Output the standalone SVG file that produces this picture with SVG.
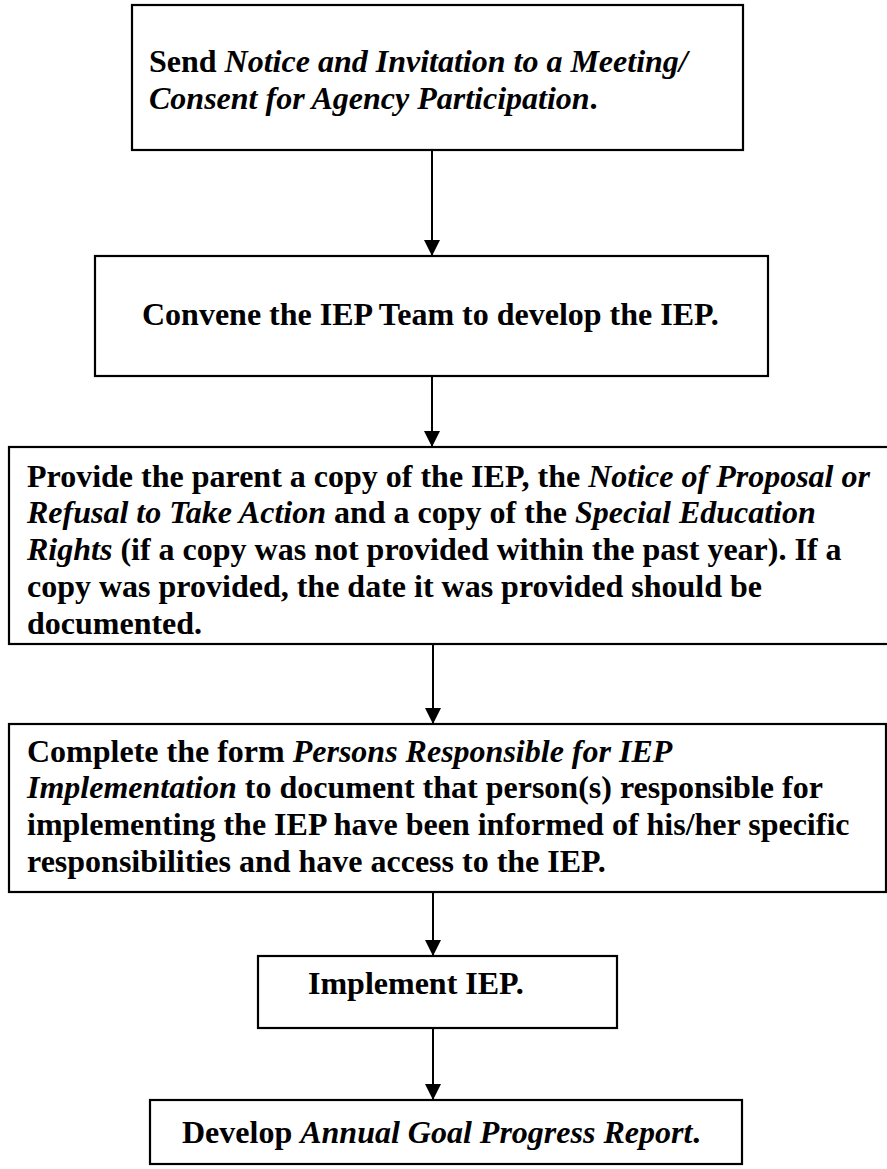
<svg xmlns="http://www.w3.org/2000/svg" width="887" height="1169" viewBox="0 0 887 1169">
  <style>
    .box { fill: #fff; stroke: #000; stroke-width: 2.2; }
    .t { font-family: "Liberation Serif", "Times New Roman", serif; font-size: 32px; font-weight: bold; fill: #000; }
    .i { font-style: italic; }
    .conn { stroke: #000; stroke-width: 2; fill: none; }
  </style>
  <defs>
    <marker id="arrow" markerUnits="userSpaceOnUse" markerWidth="16" markerHeight="17" refX="8" refY="16" orient="0" viewBox="0 0 16 17">
      <path d="M0,0 L16,0 L8,16 Z" fill="#000"/>
    </marker>
  </defs>
  <rect width="887" height="1169" fill="#fff"/>

  <g id="connectors">
    <line class="conn" x1="432" y1="151" x2="432" y2="256" marker-end="url(#arrow)"/>
    <line class="conn" x1="432" y1="377" x2="432" y2="447" marker-end="url(#arrow)"/>
    <line class="conn" x1="433" y1="645" x2="433" y2="724" marker-end="url(#arrow)"/>
    <line class="conn" x1="433" y1="893" x2="433" y2="956" marker-end="url(#arrow)"/>
    <line class="conn" x1="433" y1="1029" x2="433" y2="1100" marker-end="url(#arrow)"/>
  </g>

  <g id="send-notice">
    <rect class="box" x="132" y="5" width="611" height="145"/>
    <text class="t" x="149" y="72">Send <tspan class="i">Notice and Invitation to a Meeting/</tspan></text>
    <text class="t" x="149" y="109"><tspan class="i">Consent for Agency Participation</tspan>.</text>
  </g>

  <g id="convene-team">
    <rect class="box" x="95" y="256" width="673" height="120"/>
    <text class="t" x="142" y="325">Convene the IEP Team to develop the IEP.</text>
  </g>

  <g id="provide-copy">
    <rect class="box" x="9" y="447" width="900" height="197"/>
    <text class="t" x="27" y="487">Provide the parent a copy of the IEP, the <tspan class="i">Notice of Proposal or</tspan></text>
    <text class="t" x="27" y="523"><tspan class="i">Refusal to Take Action</tspan> and a copy of the <tspan class="i">Special Education</tspan></text>
    <text class="t" x="27" y="560"><tspan class="i">Rights</tspan> (if a copy was not provided within the past year). If a</text>
    <text class="t" x="27" y="597">copy was provided, the date it was provided should be</text>
    <text class="t" x="27" y="634">documented.</text>
  </g>

  <g id="persons-responsible">
    <rect class="box" x="9" y="724" width="877" height="168"/>
    <text class="t" x="27" y="762">Complete the form <tspan class="i">Persons Responsible for IEP</tspan></text>
    <text class="t" x="27" y="798"><tspan class="i">Implementation</tspan> to document that person(s) responsible for</text>
    <text class="t" x="27" y="835">implementing the IEP have been informed of his/her specific</text>
    <text class="t" x="27" y="872">responsibilities and have access to the IEP.</text>
  </g>

  <g id="implement-iep">
    <rect class="box" x="258" y="956" width="359" height="72"/>
    <text class="t" x="308" y="994">Implement IEP.</text>
  </g>

  <g id="progress-report">
    <rect class="box" x="150" y="1100" width="592" height="64"/>
    <text class="t" x="182" y="1143">Develop <tspan class="i">Annual Goal Progress Report</tspan>.</text>
  </g>
</svg>
